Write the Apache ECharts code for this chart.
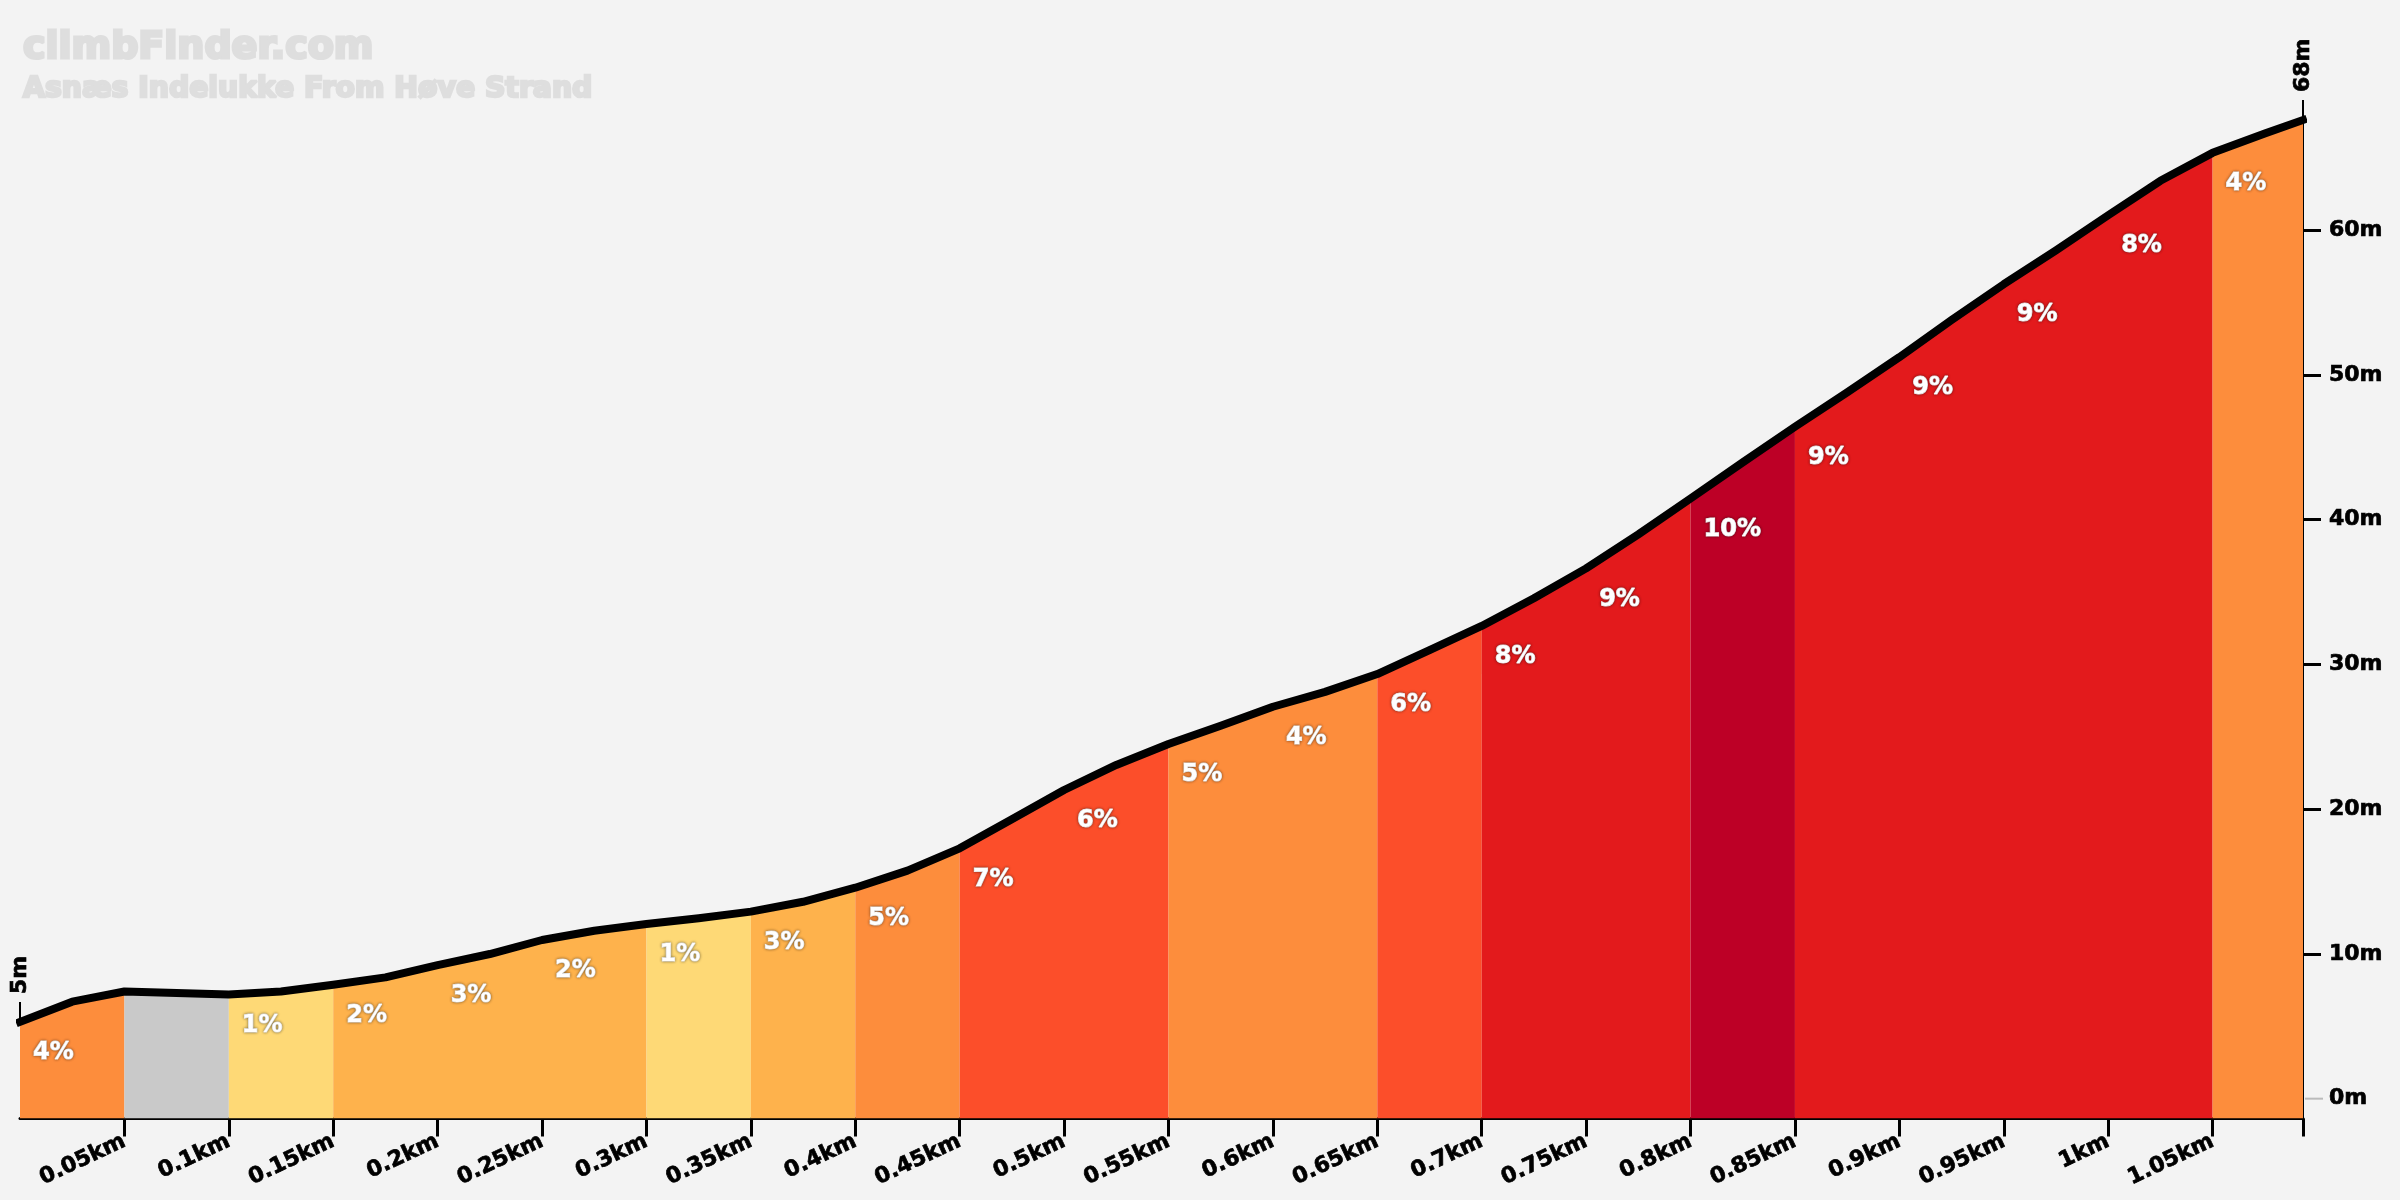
<!DOCTYPE html>
<html>
<head>
<meta charset="utf-8">
<style>html,body{margin:0;padding:0;background:#f3f3f3}#c{width:2400px;height:1200px}</style>
<script src="https://cdn.jsdelivr.net/npm/echarts@6/dist/echarts.min.js"></script>
</head>
<body>
<div id="c"></div>
<script>
const titleText = 'climbFinder.com';
const subtitleText = 'Asnæs Indelukke From Høve Strand';

const distanceKm = [0,0.025,0.05,0.075,0.1,0.125,0.15,0.175,0.2,0.225,0.25,0.275,0.3,0.325,0.35,0.375,0.4,0.425,0.45,0.475,0.5,0.525,0.55,0.575,0.6,0.625,0.65,0.675,0.7,0.725,0.75,0.775,0.8,0.825,0.85,0.875,0.9,0.925,0.95,0.975,1,1.025,1.05,1.075,1.0933];
const elevationM = [5.3,6.7,7.4,7.3,7.2,7.4,7.87,8.38,9.23,9.99,10.96,11.6,12.07,12.46,12.92,13.6,14.57,15.75,17.29,19.3,21.32,23.05,24.5,25.76,27.07,28.1,29.33,30.99,32.65,34.56,36.63,38.98,41.46,43.95,46.41,48.78,51.22,53.78,56.26,58.6,61.02,63.4,65.33,66.67,67.6];

const segmentStarts = [0,0.05,0.1,0.15,0.2,0.25,0.3,0.35,0.4,0.45,0.5,0.55,0.6,0.65,0.7,0.75,0.8,0.85,0.9,0.95,1,1.05];
const segmentEnds = [0.05,0.1,0.15,0.2,0.25,0.3,0.35,0.4,0.45,0.5,0.55,0.6,0.65,0.7,0.75,0.8,0.85,0.9,0.95,1,1.05,1.0933];
const segmentGrades = [4,0,1,2,3,2,1,3,5,7,6,5,4,6,8,9,10,9,9,9,8,4];

const gradeColors = {0:'#c9c9c9',1:'#fed976',2:'#feb24c',3:'#feb24c',4:'#fd8d3c',5:'#fd8d3c',6:'#fc4e2a',7:'#fc4e2a',8:'#e31a1c',9:'#e31a1c',10:'#bd0026'};

const xTickValues = [0.05,0.1,0.15,0.2,0.25,0.3,0.35,0.4,0.45,0.5,0.55,0.6,0.65,0.7,0.75,0.8,0.85,0.9,0.95,1,1.05];
const xEnd = 1.0933;
const yTickValues = [10,20,30,40,50,60];
const yLabelValues = [0,10,20,30,40,50,60];
const yMin = -1.37, yMax = 67.6;
const endLabels = ['5m','68m'];

const FONT = '"DejaVu Sans"';
const pts = distanceKm.map((d,i)=>[d,elevationM[i]]);
const elevAt = d => pts.find(p=>Math.abs(p[0]-d)<1e-6)[1];

// Neighbouring segments of one colour are filled as one run, so no seam shows between them.
const runs = [];
segmentStarts.forEach((s,i)=>{
  const color = gradeColors[segmentGrades[i]];
  const last = runs[runs.length-1];
  if (last && last.color===color) last.end = segmentEnds[i];
  else runs.push({start:s,end:segmentEnds[i],color});
});
const areaSeries = runs.map(r=>({
  type:'line', silent:true, showSymbol:false, symbol:'none', z:2,
  data: pts.filter(p=>p[0]>=r.start-1e-6 && p[0]<=r.end+1e-6),
  lineStyle:{width:0,opacity:0},
  areaStyle:{color:r.color,opacity:1,origin:'start'}
}));

const gradeLabelData = segmentStarts.map((s,i)=>({value:[s,elevAt(s)],grade:segmentGrades[i]})).filter(d=>d.grade>0);

const axisText = {color:'#000',fontFamily:FONT,fontWeight:'bold',fontSize:22,textBorderColor:'#000',textBorderWidth:0.7};

const option = {
  animation:false,
  backgroundColor:'#f3f3f3',
  title:[
    {text:titleText,left:18,top:24,textStyle:{fontFamily:FONT,fontWeight:'bold',fontSize:38,color:'#dedede',textBorderColor:'#dedede',textBorderWidth:3}},
    {text:subtitleText,left:18,top:71,textStyle:{fontFamily:FONT,fontWeight:'bold',fontSize:28.3,color:'#dedede',textBorderColor:'#dedede',textBorderWidth:2.5}}
  ],
  grid:{left:20,right:97,top:120,bottom:81.5},
  xAxis:{
    type:'value',min:0,max:xEnd,splitLine:{show:false},
    axisLine:{show:true,onZero:false,lineStyle:{color:'#000',width:3}},
    axisTick:{show:true,length:18,customValues:xTickValues.concat([xEnd]),lineStyle:{color:'#000',width:3}},
    axisLabel:{show:true,rotate:25,margin:22,customValues:xTickValues,formatter:v=>v+'km',...axisText}
  },
  yAxis:{type:'value',position:'right',min:yMin,max:yMax,splitLine:{show:false},
     axisLine:{show:true,onZero:false,lineStyle:{color:'#000',width:2}},
     axisTick:{show:true,length:18,customValues:yTickValues,lineStyle:{color:'#000',width:3}},
     axisLabel:{show:true,margin:26,customValues:yLabelValues,padding:[0,0,6,0],formatter:v=>v+'m',...axisText}},
  series:[
    ...areaSeries,
    {type:'line',silent:true,showSymbol:false,symbol:'none',z:5,clip:false,data:pts,
     lineStyle:{color:'#000',width:8,cap:'square',join:'round'}},
    {type:'scatter',silent:true,z:6,clip:false,symbolSize:0,data:gradeLabelData,
     itemStyle:{opacity:1},
     label:{show:true,position:'right',distance:13,offset:[0,31],formatter:p=>p.data.grade+'%',opacity:1,
       color:'#fff',fontFamily:FONT,fontWeight:'bold',fontSize:24,textBorderColor:'#fff',textBorderWidth:1,
       textShadowColor:'rgba(0,0,0,0.45)',textShadowBlur:3}},
    {type:'scatter',silent:true,z:4,clip:false,symbol:'rect',symbolSize:[2,20],symbolOffset:[0,-10],
     data:[pts[0],pts[pts.length-1]].map((p,i)=>({value:p,name:endLabels[i]})),
     itemStyle:{color:'#000',opacity:1},
     label:{show:true,position:'top',distance:8,rotate:90,align:'left',verticalAlign:'middle',formatter:p=>p.name,opacity:1,...axisText}},
    {type:'scatter',silent:true,z:4,clip:false,symbol:'rect',symbolSize:[18,2],symbolOffset:[11,0],
     data:[[xEnd,0]],itemStyle:{color:'#bbb',opacity:1}}
  ]
};
const chart = echarts.init(document.getElementById('c'),null,{renderer:'canvas'});
chart.setOption(option);
</script>
</body>
</html>
